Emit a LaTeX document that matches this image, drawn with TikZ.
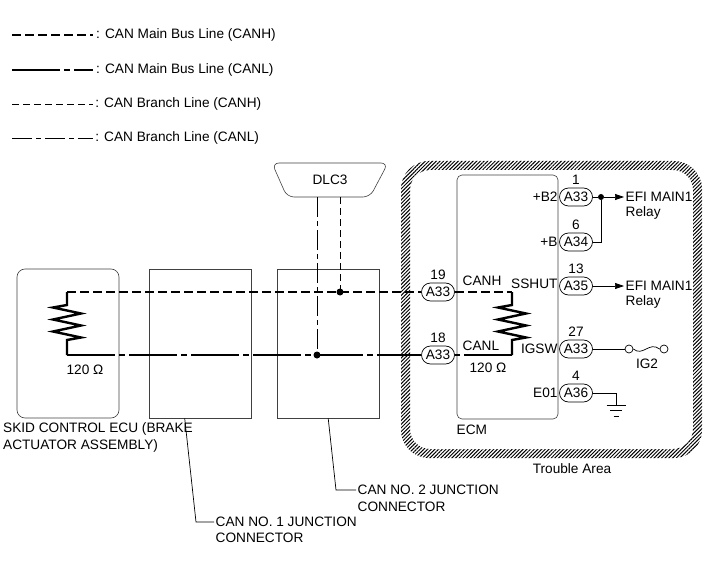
\documentclass[tikz,border=0pt]{standalone}
\usepackage{fontspec}
\setmainfont{Liberation Sans}
\usetikzlibrary{arrows.meta, calc, shapes.misc, patterns.meta}

\newcommand{\Resistor}[2]{
	\draw[bus] (#1) -- ($(#1)+(0,13)$) -- ++(-14,2.5) -- ++(28,6) -- ++(-28,6) -- ++(28,6) -- ++(-28,6) -- ++(28,6) -- ++(-14,2.5) -- (#2);
}

\begin{document}
\begin{tikzpicture}[x=1bp, y=-1bp,
	every node/.style={font=\fontsize{13.7}{16}\selectfont, inner sep=1.5bp},
	every label/.style={label distance=1bp},
	wire/.style={line width=0.7bp},
	bus/.style={line width=2.4bp},
	canh/.style={bus, dash pattern=on 9bp off 4bp},
	canl/.style={bus, dash pattern=on 48bp off 4bp on 6bp off 4bp},
	brH/.style={wire, dash pattern=on 7bp off 4bp},
	brL/.style={wire, dash pattern=on 20bp off 4bp on 5bp off 4bp},
	box/.style={draw=black!75, line width=0.6bp, minimum width=102bp, minimum height=149bp},
	pin/.style={draw, rounded rectangle, wire, minimum width=35bp, minimum height=18bp, inner sep=1bp},
	dot/.style={circle, fill, inner sep=0, minimum size=7bp},
	ring/.style={circle, draw, wire, inner sep=0, minimum size=8bp},
	]

	\useasboundingbox (0,0) rectangle (711,579);

	% legend
	\foreach \y/\st/\txt in {35/canh/Main Bus Line (CANH), 70/canl/Main Bus Line (CANL), 104/brH/Branch Line (CANH), 138/brL/Branch Line (CANL)}
		\draw[\st] (12,\y) -- (93,\y) node[anchor=west, inner sep=2bp] (leg\y) {: CAN \txt};

	% trouble area
	\fill[pattern={Lines[angle=45, distance=2.6bp, line width=1bp]}, even odd rule, rounded corners=28bp] (401,161) rectangle (702,458) [rounded corners=20bp] (410,170) rectangle (693,449);
	\node (tTA) at (572,469) {Trouble Area};

	% boxes
	\node[box, rounded corners=8bp] (skid) at (68,343.5) {};
	\node[box] (jc1) at (200,343.5) {};
	\node[box] (jc2) at (328.5,343.5) {};
	\node[box, rounded corners=5bp, minimum height=244bp, minimum width=101bp] (ecm) at (507.5,297) {};

	\draw[draw=black!75, line width=0.6bp, rounded corners=7bp] (272,163) -- (388,163) -- (370,197) -- (287,197) -- cycle;
	\node (dlc) at (330,180) {DLC3};
	\coordinate (dlcB) at (330,197);

	% pins
	\node[pin, label=above:19] (p19) at (438,292) {A33};
	\node[pin, label=above:18] (p18) at (438,355) {A33};
	\node[pin, label=above:1] (p1) at (576,197) {A33};
	\node[pin, label=above:6] (p6) at (576,242) {A34};
	\node[pin, label=above:13] (p13) at (576,286) {A35};
	\node[pin, label=above:27] (p27) at (576,349) {A33};
	\node[pin, label=above:4] (p4) at (576,393) {A36};

	\node[anchor=east] (tB2) at (p1.west) {+B2};
	\node[anchor=east] (tB) at (p6.west) {+B};
	\node[anchor=east, yshift=2bp] (tSS) at (p13.west) {SSHUT};
	\node[anchor=east] (tIG) at (p27.west) {IGSW};
	\node[anchor=east] (tE) at (p4.west) {E01};
	\node[anchor=west] (tCH) at (461,281) {CANH};
	\node[anchor=west] (tCL) at (461,346) {CANL};
	\node (tR2) at (488,368) {120 Ω};
	\node (tR1) at (85,370) {120 Ω};
	\node[anchor=west] (tECM) at (455,430) {ECM};

	% bus lines
	\coordinate (rH) at (67,292);
	\coordinate (rL) at (67,355);
	\coordinate (eH) at (512,292);
	\coordinate (eL) at (512,355);
	\coordinate (jH) at (340,292);
	\coordinate (jL) at (317,355);

	\draw[brL] (dlcB -| jL) -- (jL);
	\draw[brH] (dlcB -| jH) -- (jH);
	\draw[canh] (rH) -- (p19.west);
	\draw[canl] (rL) -- (p18.west);
	\Resistor{rH}{rL}
	\draw[canh] (p19.east) -- (eH);
	\Resistor{eH}{eL}
	\draw[canl] (eL) -- (p18.east);
	\node[dot] (dH) at (jH) {};
	\node[dot] (dL) at (jL) {};

	% right side
	\node[anchor=west] (efi1) at (624,197) {EFI MAIN1};
	\node[anchor=west] (rel1) at ($(efi1.west)+(0,16)$) {Relay};
	\node[anchor=west] (efi2) at (624,286) {EFI MAIN1};
	\node[anchor=west] (rel2) at ($(efi2.west)+(0,16)$) {Relay};

	\node[dot, minimum size=6bp] (dB) at (601,197) {};
	\draw[wire] (p1.east) -- (dB);
	\draw[wire] (p6.east) -| (dB);
	\draw[wire, -{Triangle[length=9bp, width=6bp]}] (dB) -- (efi1.west);
	\draw[wire, -{Triangle[length=9bp, width=6bp]}] (p13.east) -- (efi2.west);

	\node[ring] (f1) at (629,349) {};
	\node[ring] (f2) at (664,349) {};
	\draw[wire] (p27.east) -- (f1.west);
	\draw[wire] (f1.east) .. controls (643,357) and (649,341) .. (f2.west);
	\node (tIG2) at (647,364) {IG2};

	\coordinate (gnd) at (616,405);
	\draw[wire] (p4.east) -| (gnd);
	\draw[wire] ($(gnd)+(-9.5,0)$) -- ++(19,0) ($(gnd)+(-6,5.5)$) -- ++(12,0) ($(gnd)+(-2.5,11)$) -- ++(5,0);

	% captions
	\node[anchor=west] (lbSkid) at (1.5,429) {SKID CONTROL ECU (BRAKE};
	\node[anchor=west] (lbSkid2) at (1.5,446) {ACTUATOR ASSEMBLY)};
	\node[anchor=west] (lbJ1) at (214,522) {CAN NO. 1 JUNCTION};
	\node[anchor=west] (lbJ1b) at (214,538) {CONNECTOR};
	\node[anchor=west] (lbJ2) at (356,490) {CAN NO. 2 JUNCTION};
	\node[anchor=west] (lbJ2b) at (356,507) {CONNECTOR};

	\draw[wire] ($(jc1.south west)+(36,0)$) -- ($(lbJ1.west)+(-18,0)$) -- (lbJ1.west);
	\draw[wire] ($(jc2.south west)+(51,0)$) -- ($(lbJ2.west)+(-20,0)$) -- (lbJ2.west);

\end{tikzpicture}
\end{document}
